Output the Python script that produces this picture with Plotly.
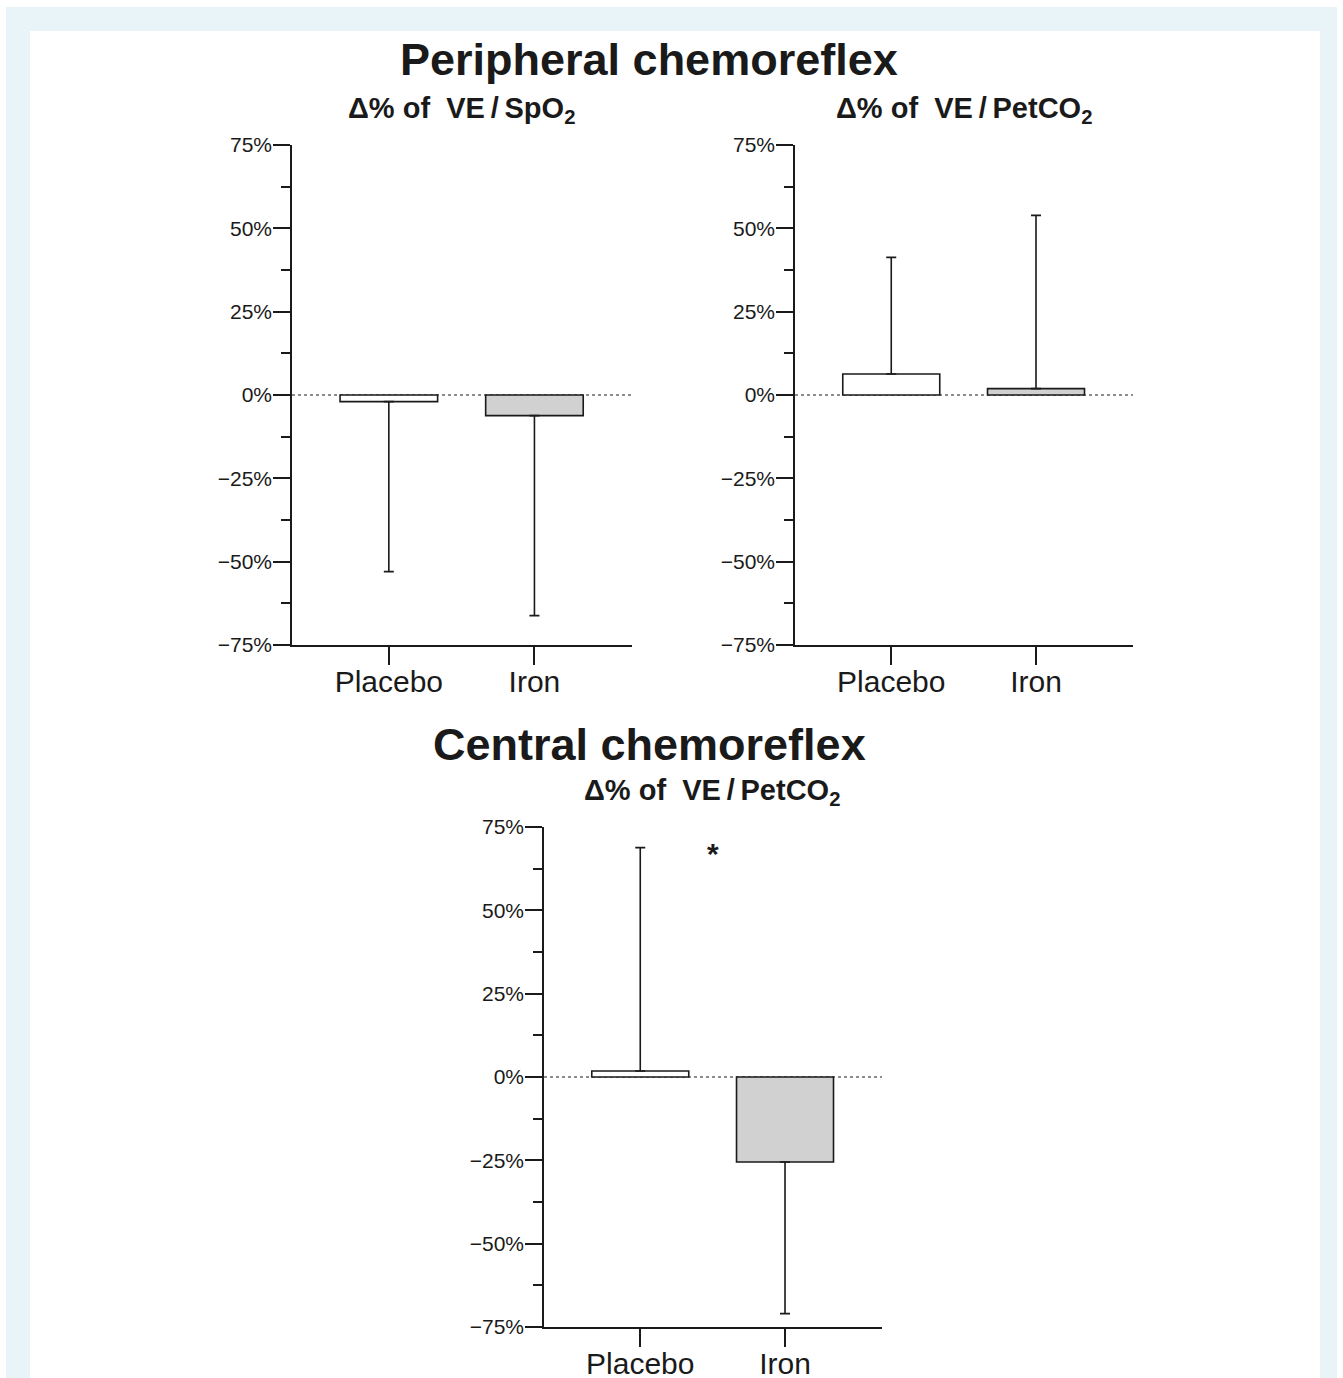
import plotly.graph_objects as go

W, H = 1343, 1378

# ---------------- data ----------------
groups = ["Placebo", "Iron"]
periph_spo2_mean = [-2.0, -6.2]
periph_spo2_err = [51.0, 60.0]
periph_petco2_mean = [6.3, 1.9]
periph_petco2_err = [35.0, 52.0]
central_petco2_mean = [1.8, -25.5]
central_petco2_err = [67.0, 45.5]
bar_colors = ["#ffffff", "#d0d1d0"]
ytick_vals = [-75, -50, -25, 0, 25, 50, 75]
ytick_text = ["\u221275%", "\u221250%", "\u221225%", "0%", "25%", "50%", "75%"]
minor_vals = [-62.5, -37.5, -12.5, 12.5, 37.5, 62.5]


def px_x(x):
    return x / W


def px_y(y):
    return (H - y) / H


FONT = "Arial, Liberation Sans, sans-serif"

fig = go.Figure()

panels = [
    (periph_spo2_mean, periph_spo2_err, "x", "y", (292, 632), (145, 645)),
    (periph_petco2_mean, periph_petco2_err, "x2", "y2", (795, 1133), (145, 645)),
    (central_petco2_mean, central_petco2_err, "x3", "y3", (544, 882), (827, 1327)),
]

for means, errs, xa, ya, _, _ in panels:
    plus = [e if m >= 0 else 0 for m, e in zip(means, errs)]
    minus = [e if m < 0 else 0 for m, e in zip(means, errs)]
    fig.add_trace(go.Bar(
        x=groups, y=means, xaxis=xa, yaxis=ya,
        width=0.67,
        marker=dict(color=bar_colors, line=dict(color="#1a1a1a", width=1.6)),
        error_y=dict(type="data", symmetric=False, array=plus, arrayminus=minus,
                     color="#1a1a1a", thickness=1.6, width=5),
        showlegend=False,
    ))

layout = dict(
    template="none",
    width=W, height=H,
    margin=dict(l=0, r=0, t=0, b=0, pad=0, autoexpand=False),
    paper_bgcolor="#ffffff", plot_bgcolor="rgba(0,0,0,0)",
    font=dict(family=FONT, color="#1a1a1a"),
    shapes=[], annotations=[],
)

for i, (_, _, xa, ya, (x0, x1), (y0, y1)) in enumerate(panels):
    xk = "xaxis" if i == 0 else f"xaxis{i+1}"
    yk = "yaxis" if i == 0 else f"yaxis{i+1}"
    layout[xk] = dict(
        domain=[px_x(x0), px_x(x1)], anchor=ya, type="category", automargin=False,
        range=[-0.665, 1.67], showline=True, linecolor="#1a1a1a", linewidth=1.6,
        ticks="outside", ticklen=18, tickwidth=1.6, tickcolor="#1a1a1a",
        tickfont=dict(size=30, family=FONT, color="#1a1a1a"),
        ticklabelstandoff=-9,
        showgrid=False, zeroline=False, fixedrange=True,
    )
    layout[yk] = dict(
        domain=[px_y(y1), px_y(y0)], anchor=xa, automargin=False,
        range=[-75, 75], showline=True, linecolor="#1a1a1a", linewidth=1.6,
        ticks="outside", ticklen=17, tickwidth=1.6, tickcolor="#1a1a1a",
        tickmode="array", tickvals=ytick_vals, ticktext=ytick_text,
        tickfont=dict(size=21, family=FONT, color="#1a1a1a"),
        ticklabelstandoff=-3,
        minor=dict(tickmode="array", tickvals=minor_vals, ticks="outside",
                   ticklen=9, tickwidth=1.6, tickcolor="#1a1a1a", showgrid=False),
        showgrid=False, zeroline=False, fixedrange=True,
    )
    xdom = "x domain" if i == 0 else f"x{i+1} domain"
    layout["shapes"].append(dict(
        type="line", xref=xdom, yref=ya, x0=0, x1=1, y0=0, y1=0,
        line=dict(color="#1a1a1a", width=1, dash="dot"), layer="below",
    ))

# background frame
layout["shapes"] = [
    dict(type="rect", xref="paper", yref="paper", x0=px_x(6), x1=px_x(1337),
         y0=px_y(1378), y1=px_y(7), fillcolor="#e8f4f7", line=dict(width=0), layer="below"),
    dict(type="rect", xref="paper", yref="paper", x0=px_x(30), x1=px_x(1320),
         y0=px_y(1378), y1=px_y(31), fillcolor="#ffffff", line=dict(width=0), layer="below"),
] + layout["shapes"]

sub_spo2 = "\u0394% of\u00a0\u00a0VE\u2009/\u2009SpO<sub>2</sub>"
sub_pet = "\u0394% of\u00a0\u00a0VE\u2009/\u2009PetCO<sub>2</sub>"

texts = [
    ("<b>Peripheral chemoreflex</b>", 649, 60, 45),
    ("<b>" + sub_spo2 + "</b>", 461, 110, 29),
    ("<b>" + sub_pet + "</b>", 964, 110, 29),
    ("<b>Central chemoreflex</b>", 649, 745, 45),
    ("<b>" + sub_pet + "</b>", 712, 792, 29),
]
for t, x, y, s in texts:
    layout["annotations"].append(dict(
        text=t, xref="paper", yref="paper", x=px_x(x), y=px_y(y),
        xanchor="center", yanchor="middle", showarrow=False,
        font=dict(size=s, family=FONT, color="#1a1a1a"),
    ))

layout["annotations"].append(dict(
    text="<b>*</b>", xref="x3", yref="y3", x=0.5, y=67, xanchor="center", yanchor="middle",
    showarrow=False, font=dict(size=30, family=FONT, color="#1a1a1a"),
))

fig.update_layout(**layout)
fig.write_html(
    "out.html",
    config={"displayModeBar": False},
    post_script="document.body.style.margin='0';document.body.style.overflow='hidden';",
)
